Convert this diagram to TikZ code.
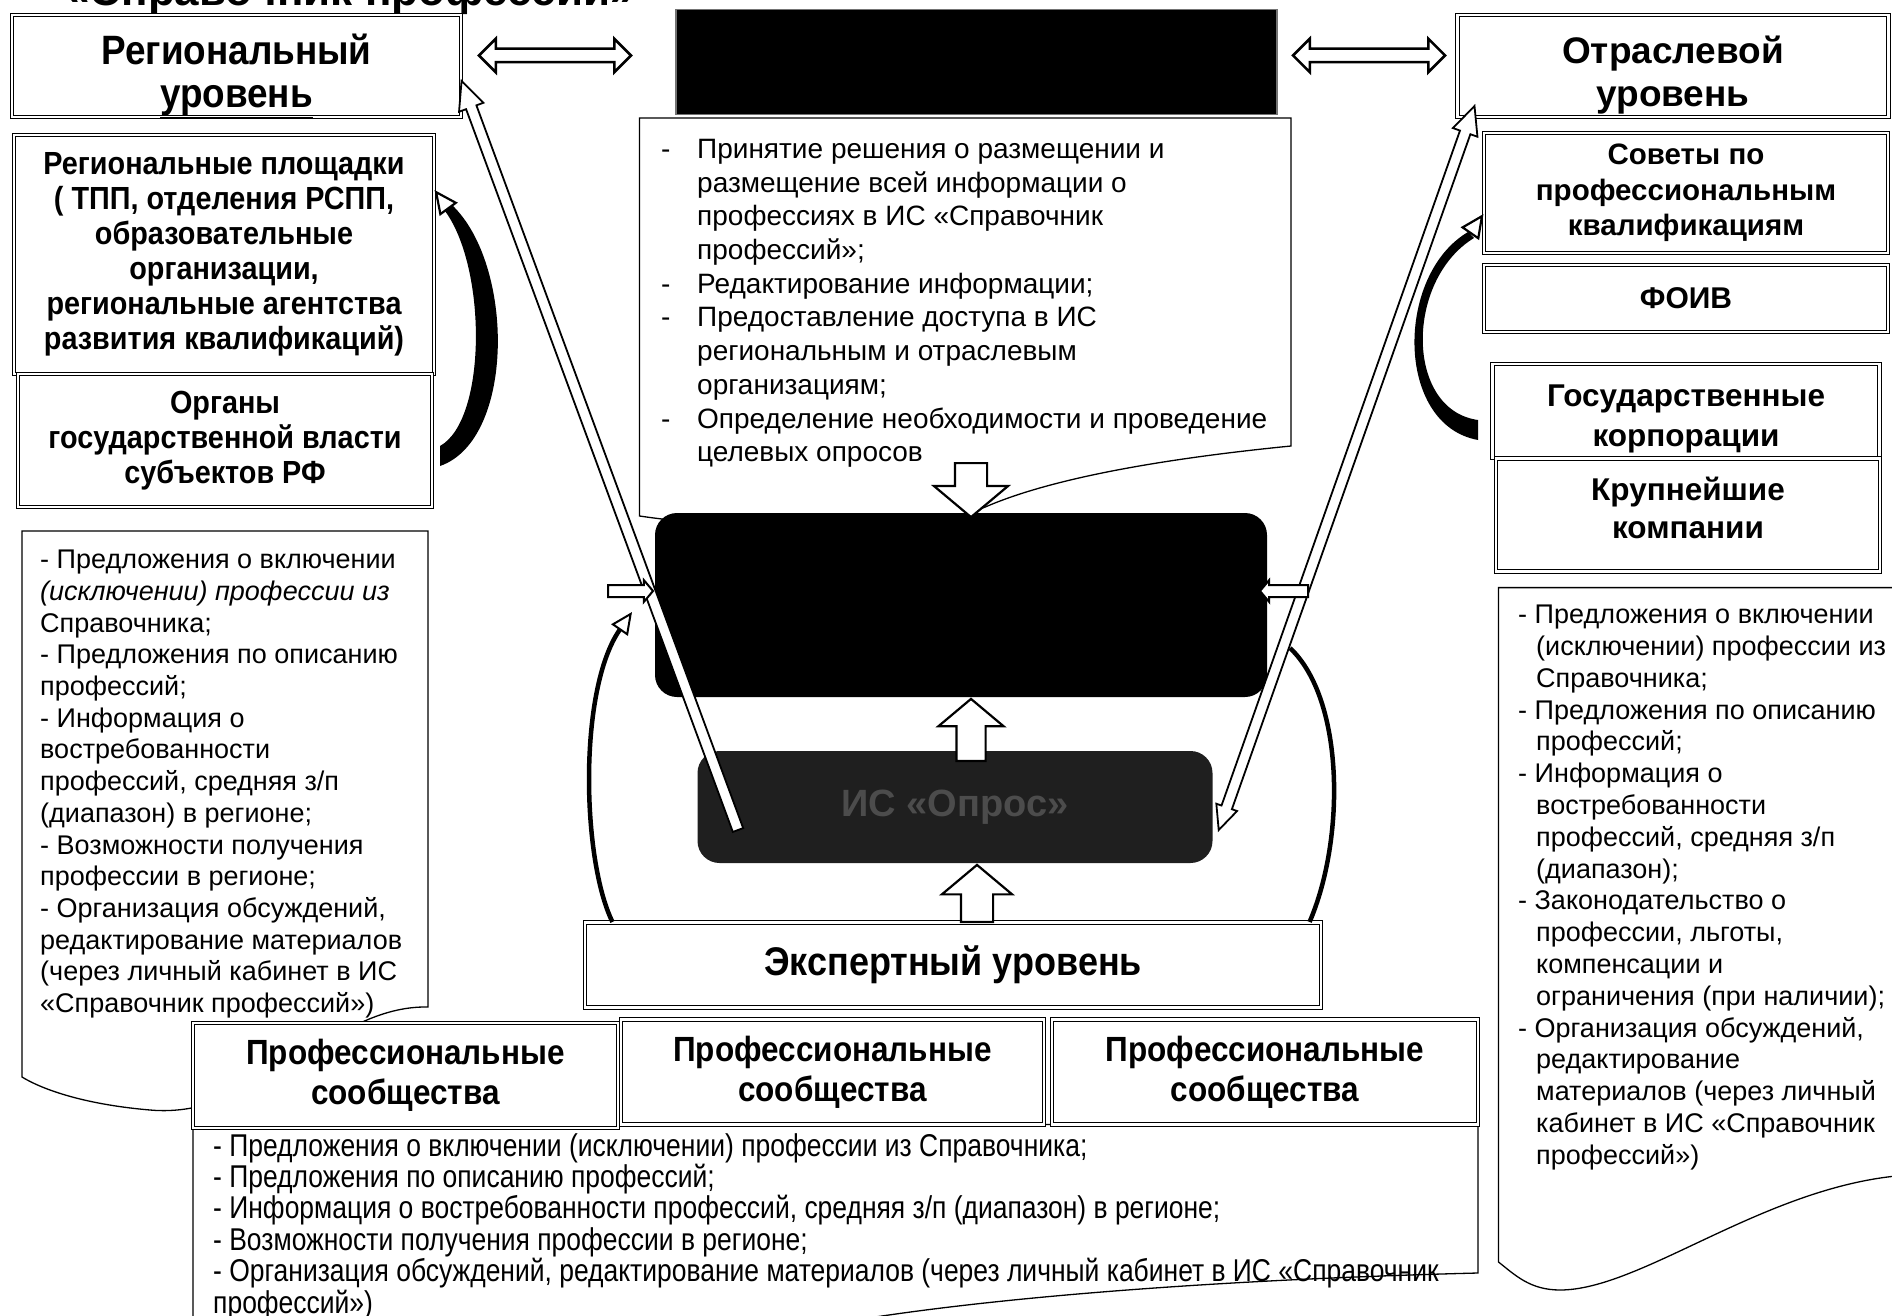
\documentclass[tikz,border=0pt]{standalone}
\usepackage{fontspec}
\setmainfont{Liberation Sans}
\newfontfamily\narrowfont[FakeStretch=0.9]{Liberation Sans}
\newfontfamily\condfont[FakeStretch=0.84]{Liberation Sans}
\usetikzlibrary{shapes.arrows,calc,arrows.meta}

\tikzset{
  lvlbox/.style={draw, double, double distance=2.4pt, line width=1.1pt, fill=white, align=center, inner sep=0pt},
  boxtext/.style={align=center, inner sep=0pt},
  docshape/.style={draw, line width=1.3pt, fill=white},
  listtext/.style={anchor=north west, align=left, inner sep=0pt},
  darkbox/.style={rounded corners=22pt, inner sep=0pt},
  blockarr/.style={single arrow, draw, line width=2.2pt, fill=white, inner xsep=0pt, single arrow tip angle=100},
  dblarr/.style={double arrow, draw, line width=2.5pt, fill=white, inner xsep=0pt, double arrow tip angle=90},
  hollowline/.style={fill=white, draw=black, line width=1.8pt, line join=miter},
  blackarc/.style={line width=4.5pt, -{Triangle[fill=white, length=22pt, width=20pt, line width=2pt]}},
  headtip/.style={line width=2pt, -{Triangle[fill=white, length=24pt, width=22pt, line width=2.2pt]}}
}

\newcommand\hollowarrow[2]{%
  \coordinate (hb) at ($(#2)!28pt!(#1)$);
  \draw[hollowline] ($(#1)!5.5pt!90:(#2)$) -- ($(hb)!5.5pt!90:(#2)$) -- ($(hb)!13pt!90:(#2)$) -- (#2) -- ($(hb)!13pt!-90:(#2)$) -- ($(hb)!5.5pt!-90:(#2)$) -- ($(#1)!5.5pt!-90:(#2)$) -- cycle;}
\newcommand\hollowarrows[2]{%
  \coordinate (hb) at ($(#2)!28pt!(#1)$);
  \coordinate (ht) at ($(#1)!24pt!(#2)$);
  \draw[hollowline] (#1) -- ($(ht)!11pt!90:(#2)$) -- ($(ht)!5.5pt!90:(#2)$) -- ($(hb)!5.5pt!90:(#2)$) -- ($(hb)!13pt!90:(#2)$) -- (#2) -- ($(hb)!13pt!-90:(#2)$) -- ($(hb)!5.5pt!-90:(#2)$) -- ($(ht)!5.5pt!-90:(#2)$) -- ($(ht)!11pt!-90:(#2)$) -- cycle;}

\begin{document}
\begin{tikzpicture}[x=1pt, y=-1pt]
\useasboundingbox (0,0) rectangle (1892,1316);
\clip (0,0) rectangle (1892,1316);

\node[font=\bfseries\fontsize{44}{50}\selectfont, anchor=base] (title) at (350,6) {«Справочник профессий»};

\draw[docshape] (22,531) -- (428,531) -- (428,1007) .. controls (330,1005) and (260,1120) .. (150,1110) .. controls (80,1104) and (40,1088) .. (22,1077) -- cycle;
\node[listtext, font=\fontsize{27}{31.7}\selectfont] (regtext) at (40,550) {- Предложения о включении\\\textit{(исключении) профессии из}\\Справочника;\\- Предложения по описанию\\профессий;\\- Информация о\\востребованности\\профессий, средняя з/п\\(диапазон) в регионе;\\- Возможности получения\\профессии в регионе;\\- Организация обсуждений,\\редактирование материалов\\(через личный кабинет в ИС\\«Справочник профессий»)};

\draw[docshape] (639.5,118) -- (1291,118) -- (1291,446) .. controls (1150,460) and (1050,480) .. (990,505) .. controls (900,545) and (700,525) .. (639.5,516) -- cycle;
\node[listtext, font=\fontsize{28}{33.7}\selectfont] (centtext) at (661,139) {\makebox[36pt][l]{-}Принятие решения о размещении и\\\hspace*{36pt}размещение всей информации о\\\hspace*{36pt}профессиях в ИС «Справочник\\\hspace*{36pt}профессий»;\\\makebox[36pt][l]{-}Редактирование информации;\\\makebox[36pt][l]{-}Предоставление доступа в ИС\\\hspace*{36pt}региональным и отраслевым\\\hspace*{36pt}организациям;\\\makebox[36pt][l]{-}Определение необходимости и проведение\\\hspace*{36pt}целевых опросов};

\draw[docshape] (1498.5,587.6) -- (1896,587.6) -- (1896,1176) .. controls (1760,1190) and (1640,1290) .. (1560,1290) .. controls (1530,1290) and (1515,1275) .. (1498.5,1262) -- cycle;
\node[listtext, font=\fontsize{27}{31.8}\selectfont] (indtext) at (1518,605) {- Предложения о включении\\\hspace*{18pt}(исключении) профессии из\\\hspace*{18pt}Справочника;\\- Предложения по описанию\\\hspace*{18pt}профессий;\\- Информация о\\\hspace*{18pt}востребованности\\\hspace*{18pt}профессий, средняя з/п\\\hspace*{18pt}(диапазон);\\- Законодательство о\\\hspace*{18pt}профессии, льготы,\\\hspace*{18pt}компенсации и\\\hspace*{18pt}ограничения (при наличии);\\- Организация обсуждений,\\\hspace*{18pt}редактирование\\\hspace*{18pt}материалов (через личный\\\hspace*{18pt}кабинет в ИС «Справочник\\\hspace*{18pt}профессий»)};

\draw[docshape] (193,1124.5) -- (1478,1124.5) -- (1478,1273) .. controls (1200,1280) and (950,1300) .. (800,1330) -- (193,1330) -- cycle;
\node[listtext, font=\condfont\fontsize{31.5}{31.4}\selectfont] (proftext) at (213,1133) {- Предложения о включении (исключении) профессии из Справочника;\\- Предложения по описанию профессий;\\- Информация о востребованности профессий, средняя з/п (диапазон) в регионе;\\- Возможности получения профессии в регионе;\\- Организация обсуждений, редактирование материалов (через личный кабинет в ИС «Справочник\\профессий»)};

\node[lvlbox, minimum width=449pt, minimum height=102pt] (reglev) at (236.5,66) {};
\node[boxtext, font=\narrowfont\bfseries\fontsize{41}{43}\selectfont] (reglevtext) at ([yshift=-10pt]reglev.center) {Региональный\\\underline{уровень}};
\node[lvlbox, minimum width=420pt, minimum height=239pt, font=\narrowfont\bfseries\fontsize{32}{35}\selectfont] (regsites) at (224,254.5) {Региональные площадки\\( ТПП, отделения РСПП,\\образовательные\\организации,\\региональные агентства\\развития квалификаций)};
\node[lvlbox, minimum width=414pt, minimum height=133pt, font=\narrowfont\bfseries\fontsize{32}{35}\selectfont] (organs) at (225,440.5) {Органы\\государственной власти\\субъектов РФ};

\node[lvlbox, minimum width=431pt, minimum height=102pt] (indlev) at (1673,66) {};
\node[boxtext, font=\bfseries\fontsize{37}{43}\selectfont] (indlevtext) at ([yshift=-10pt]indlev.center) {Отраслевой\\\underline{уровень}};
\node[lvlbox, minimum width=404pt, minimum height=120pt, font=\bfseries\fontsize{29.5}{35.6}\selectfont] (councils) at (1686,193) {Советы по\\профессиональным\\квалификациям};
\node[lvlbox, minimum width=404pt, minimum height=67pt, font=\bfseries\fontsize{30}{36}\selectfont] (foiv) at (1686,298.5) {ФОИВ};
\node[lvlbox, minimum width=387pt, minimum height=94pt] (statecorp) at (1686,411) {};
\node[boxtext, font=\bfseries\fontsize{31.5}{40}\selectfont] (statecorptext) at ([yshift=-8pt]statecorp.center) {Государственные\\корпорации};
\node[lvlbox, minimum width=384pt, minimum height=113pt] (bigcomp) at (1688,515) {};
\node[boxtext, font=\bfseries\fontsize{31.5}{38}\selectfont] (bigcomptext) at ([yshift=7pt]bigcomp.center) {Крупнейшие\\компании};

\node[lvlbox, minimum width=736pt, minimum height=85pt, font=\narrowfont\bfseries\fontsize{40}{44}\selectfont] (expert) at (953,965) {Экспертный уровень};
\node[lvlbox, minimum width=425pt, minimum height=105pt, font=\narrowfont\bfseries\fontsize{35}{40}\selectfont] (prof1) at (405.5,1075.5) {Профессиональные\\сообщества};
\node[lvlbox, minimum width=423pt, minimum height=105pt, font=\narrowfont\bfseries\fontsize{35}{40}\selectfont] (prof2) at (832.5,1072) {Профессиональные\\сообщества};
\node[lvlbox, minimum width=426pt, minimum height=105pt, font=\narrowfont\bfseries\fontsize{35}{40}\selectfont] (prof3) at (1265,1072) {Профессиональные\\сообщества};

\node[fill=black, draw=black!55, line width=1.5pt, minimum width=601pt, minimum height=105pt, inner sep=0pt] (topbox) at (976.5,62) {};
\node[darkbox, fill=black, minimum width=612pt, minimum height=184pt] (isbox) at (961,605) {};
\node[darkbox, fill=black!88, minimum width=515pt, minimum height=112pt, text=black!70, font=\bfseries\fontsize{38}{44}\selectfont] (pollbox) at (955,807) {ИС «Опрос»};

\node[blockarr, rotate=-90, anchor=tail, minimum height=54pt, inner ysep=15pt, single arrow head extend=21pt] (adown) at (971,462) {};
\node[blockarr, rotate=90, anchor=tail, minimum height=62pt, inner ysep=13.5pt, single arrow head extend=18pt] (aup1) at (971,762) {};
\node[blockarr, rotate=90, anchor=tail, minimum height=57pt, inner ysep=15pt, single arrow head extend=19pt] (aup2) at (977,923) {};

\node[dblarr, minimum height=152pt, inner ysep=5.5pt, double arrow head extend=10pt] (dleft) at (555,55.5) {};
\node[dblarr, minimum height=152pt, inner ysep=5.5pt, double arrow head extend=10pt] (dright) at (1369,55.5) {};

\draw[blackarc] ([xshift=28pt]expert.north west) .. controls (582,860) and (578,690) .. (632,612);
\draw[line width=4.5pt] ([xshift=-12pt]expert.north east) .. controls (1345,840) and (1345,700) .. (1290,648);

\coordinate (ltail) at (738,830);
\coordinate (ltip) at ([yshift=-15pt]reglev.east);
\hollowarrow{ltail}{ltip}
\coordinate (rtop) at (1474.5,106);
\coordinate (rbot) at (1218.7,830);
\hollowarrows{rbot}{rtop}

\node[blockarr, anchor=tail, line width=2pt, minimum height=45pt, inner ysep=5pt, single arrow head extend=5pt] (sleft) at (607,591) {};
\node[blockarr, rotate=180, anchor=tail, line width=2pt, minimum height=48pt, inner ysep=5pt, single arrow head extend=5pt] (sright) at (1309,591) {};

\fill (440,466) .. controls (515,440) and (515,265) .. (452,205) -- (445,211) .. controls (487,268) and (487,420) .. (440,446) -- cycle;
\draw[headtip] (458,222) -- (regsites.east |- 0,190);
\fill (1478,440) .. controls (1395,425) and (1395,275) .. (1468,232) -- (1474,238) .. controls (1405,280) and (1405,410) .. (1478,420) -- cycle;
\draw[headtip] (1462,245) -- (councils.west |- 0,214);
\end{tikzpicture}
\end{document}
